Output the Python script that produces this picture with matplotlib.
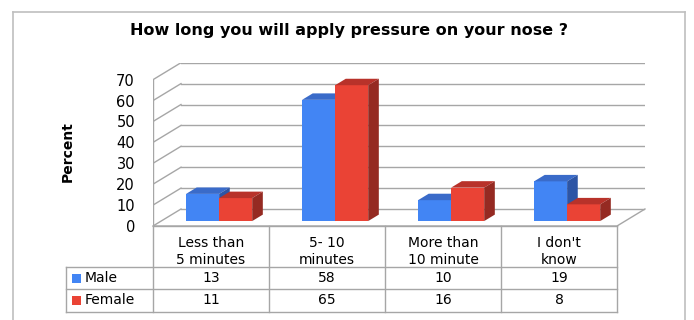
import matplotlib.pyplot as plt
from matplotlib.patches import Polygon, Rectangle

plt.rcParams["font.family"] = ["DejaVu Sans"]

title = "How long you will apply pressure on your nose ?"
categories = ["Less than\n5 minutes", "5- 10\nminutes", "More than\n10 minute", "I don't\nknow"]
male = [13, 58, 10, 19]
female = [11, 65, 16, 8]
series_names = ["Male", "Female"]
yticks = [0, 10, 20, 30, 40, 50, 60, 70]

# faces of the pseudo-3d bars: front, top, side
blue = ("#4285f4", "#3a6bc9", "#2d55a5")
red = ("#ea4335", "#b8322a", "#952a22")
grid_col = "#a6a6a6"

# depth of the chart box in data units
DX, DY = 0.2414, 8.13
# bar placement inside the box depth
D0, DD = 0.29, 0.38
W = 0.285

W_PX, H_PX = 694, 320
fig = plt.figure(figsize=(W_PX / 100, H_PX / 100), dpi=100)


def fx(px):
    return px / W_PX


def fy(py):
    return 1 - py / H_PX


# outer frame
for xs, ys in [((13, 13), (12, 330)), ((13, 685), (12, 12)), ((685, 685), (12, 330))]:
    fig.add_artist(plt.Line2D([fx(x) for x in xs], [fy(y) for y in ys],
                              color="#bfbfbf", lw=1.2))

fig.text(fx(349), fy(31), title, ha="center", va="center",
         fontsize=11.5, fontweight="bold")

ax = fig.add_axes([fx(153), fy(226), fx(645) - fx(153), fy(62.7) - fy(226)])
ax.set_xlim(-0.5, 3.5 + DX)
ax.set_ylim(0, 70 + DY)
for s in ax.spines.values():
    s.set_visible(False)
ax.set_xticks([])
ax.set_yticks(yticks)
ax.set_yticklabels([str(v) for v in yticks], fontsize=10.5)
ax.tick_params(axis="y", length=0, pad=13)
ax.set_ylabel("Percent", fontsize=10, fontweight="bold")
ax.yaxis.set_label_coords((75 - 153) / 492, (226 - 152) / 163.3)

# back wall grid and left wall
for v in yticks:
    ax.plot([-0.5 + DX, 3.5 + DX], [v + DY, v + DY], color=grid_col, lw=1, zorder=1)
    ax.plot([-0.5, -0.5 + DX], [v, v + DY], color=grid_col, lw=1, zorder=1)
ax.plot([-0.5, -0.5], [0, yticks[-1]], color=grid_col, lw=1, zorder=1)
# floor
ax.plot([-0.5, 3.5, 3.5 + DX], [0, 0, DY], color=grid_col, lw=1, zorder=1, clip_on=False)


def draw_bars(x0, values, cols):
    bx = [x + D0 * DX for x in x0]
    b = D0 * DY
    ax.bar(bx, values, width=W, bottom=b, align="edge", color=cols[0],
           linewidth=0, zorder=3)
    for xl, v in zip(bx, values):
        top = b + v
        xr = xl + W
        ax.add_patch(Polygon([(xl, top), (xr, top), (xr + DD * DX, top + DD * DY),
                              (xl + DD * DX, top + DD * DY)],
                             closed=True, fc=cols[1], ec="none", zorder=3))
        ax.add_patch(Polygon([(xr, b), (xr, top), (xr + DD * DX, top + DD * DY),
                              (xr + DD * DX, b + DD * DY)],
                             closed=True, fc=cols[2], ec="none", zorder=3))


pos = list(range(len(categories)))
draw_bars([p - W for p in pos], male, blue)
draw_bars(pos, female, red)

# data table under the chart, sharing the category x scale
tab = fig.add_axes([fx(153), fy(312), fx(645) - fx(153), fy(226) - fy(312)], sharex=ax)
tab.set_ylim(86, 0)
tab.axis("off")
rows = [0, 41, 63, 86]
left = -0.5 - 0.75
tl = dict(color=grid_col, lw=1, clip_on=False)
tab.plot([-0.5, 3.5], [0, 0], **tl)
for r in rows[1:]:
    tab.plot([left, 3.5], [r, r], **tl)
tab.plot([left, left], [rows[1], rows[3]], **tl)
for k in range(len(categories) + 1):
    tab.plot([k - 0.5, k - 0.5], [0, rows[3]], **tl)

# category labels are cut off at the bottom edge of their cell
for p, c in zip(pos, categories):
    t = tab.text(p, 10, c, ha="center", va="top", fontsize=10, linespacing=1.3)
    cell = Rectangle((p - 0.5, 0), 1, rows[1], transform=tab.transData)
    t.set_clip_path(cell)

for j, (name, vals, cols) in enumerate(zip(series_names, [male, female], [blue, red])):
    yc = (rows[j + 1] + rows[j + 2]) / 2
    tab.add_patch(Rectangle((left + 0.055, yc - 4.5), 0.078, 9, fc=cols[0],
                            ec="none", clip_on=False))
    tab.text(left + 0.16, yc, name, ha="left", va="center", fontsize=10, clip_on=False)
    for p, v in zip(pos, vals):
        tab.text(p, yc, str(v), ha="center", va="center", fontsize=10)

fig.savefig("out.png", dpi=100)
